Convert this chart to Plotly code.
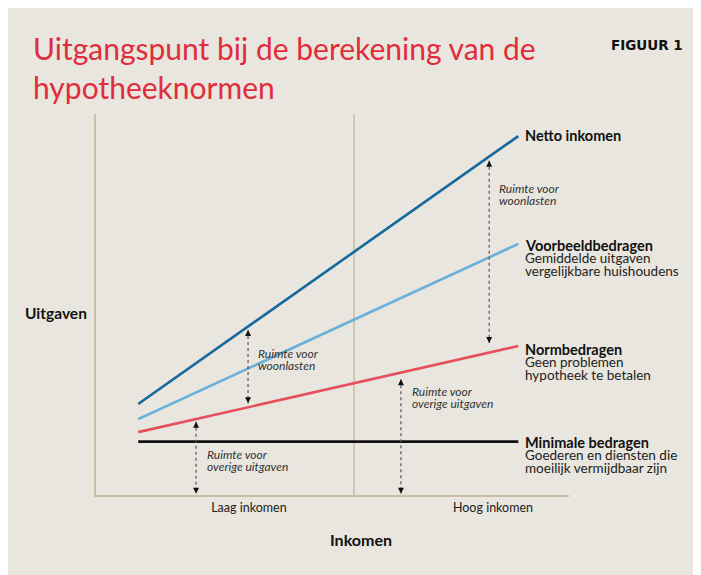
import plotly.graph_objects as go

# ---------------- data ----------------
income_x = [1, 10]
netto_inkomen = [23.9, 94.2]
voorbeeldbedragen = [19.9, 65.9]
normbedragen = [16.5, 39.1]
minimale_bedragen = [14.0, 14.0]

arrow_x = [3.6, 2.37, 7.22, 9.31]
arrow_top = [43.3, 19.2, 30.4, 87.7]
arrow_bottom = [24.1, 0.3, 0.3, 39.9]
arrow_labels = [["Ruimte voor", "woonlasten"],
                ["Ruimte voor", "overige uitgaven"],
                ["Ruimte voor", "overige uitgaven"],
                ["Ruimte voor", "woonlasten"]]

tick_vals = [3.62, 9.40]
tick_text = ["Laag inkomen", "Hoog inkomen"]
divider_x = 6.11

series_names = ["Netto inkomen", "Voorbeeldbedragen", "Normbedragen", "Minimale bedragen"]
series_sub = [[], ["Gemiddelde uitgaven", "vergelijkbare huishoudens"],
              ["Geen problemen", "hypotheek te betalen"],
              ["Goederen en diensten die", "moeilijk vermijdbaar zijn"]]

# ---------------- layout helpers ----------------
# coordinates below are screen pixels; the page body adds an 8px margin
OFF = 8
W, H = 701, 575
L, R, T, B = 96 - OFF, 569 - OFF, 114 - OFF, 495 - OFF
FONT = "Lato"
BG = "#e8e6de"
AXC = "#c9bea6"


def px(x):
    return (x - OFF - L) / (R - L)


def py(y):
    return (B - (y - OFF)) / (B - T)


fig = go.Figure()

colors = ["#17689c", "#68afd9", "#e5505c", "#111111"]
values = [netto_inkomen, voorbeeldbedragen, normbedragen, minimale_bedragen]
for name, vals, c in zip(series_names, values, colors):
    fig.add_trace(go.Scatter(x=income_x, y=vals, mode="lines", name=name,
                             line=dict(color=c, width=2.6), showlegend=False,
                             hoverinfo="skip"))

for ax_, top, bot in zip(arrow_x, arrow_top, arrow_bottom):
    fig.add_trace(go.Scatter(x=[ax_, ax_], y=[top, bot], mode="lines",
                             line=dict(color="#555555", width=1.2, dash="3px,3px"),
                             showlegend=False, hoverinfo="skip"))
    fig.add_trace(go.Scatter(x=[ax_, ax_], y=[top, bot], mode="markers",
                             marker=dict(symbol=["arrow-up", "arrow-down"], size=6,
                                         color="#111111", line=dict(width=0)),
                             showlegend=False, hoverinfo="skip"))

annotations = []


def text(x, y, s, size=13, color="#1a1a1a", xanchor="left", bold=False, italic=False,
         family=FONT):
    if bold:
        s = "<b>" + s + "</b>"
    if italic:
        s = "<i>" + s + "</i>"
    annotations.append(dict(x=px(x), y=py(y), xref="paper", yref="paper", text=s,
                            showarrow=False, xanchor=xanchor, yanchor="middle",
                            borderpad=0,
                            font=dict(family=family, size=size, color=color)))


# title
text(32, 48, "Uitgangspunt bij de berekening van de", size=30, color="#e12d3b")
text(32, 87, "hypotheeknormen", size=30, color="#e12d3b")
text(684, 45, "FIGUUR 1", size=13.5, bold=True, xanchor="right", color="#111111",
     family="DejaVu Sans")

# axis labels
text(24, 313, "Uitgaven", size=15.5, bold=True, color="#111111")
text(361, 539, "Inkomen", size=16, bold=True, color="#111111", xanchor="center")

# series labels on the right
label_y = [136, 245, 349, 442]
for name, subs, y0 in zip(series_names, series_sub, label_y):
    text(524, y0, name, size=14.5, bold=True, color="#111111")
    for i, s in enumerate(subs):
        text(524, y0 + 13 * (i + 1), s, size=13.5, color="#222222")

# arrow labels
arrow_label_pos = [(257, 353), (206, 454), (411, 391), (498, 188)]
for lines, (lx, ly) in zip(arrow_labels, arrow_label_pos):
    for i, s in enumerate(lines):
        text(lx, ly + 12 * i, s, size=12, italic=True, color="#333333")

shapes = [
    dict(type="line", xref="x", yref="paper", x0=divider_x, x1=divider_x, y0=0, y1=1,
         line=dict(color=AXC, width=1.5), layer="below"),
]

fig.update_layout(
    width=W, height=H,
    margin=dict(l=L, r=W - R, t=T, b=H - B, pad=0),
    paper_bgcolor=BG, plot_bgcolor=BG,
    xaxis=dict(range=[0, 11.2], showgrid=False, zeroline=False, showline=True,
               linecolor=AXC, linewidth=2, tickvals=tick_vals, ticktext=tick_text,
               ticks="", tickfont=dict(family=FONT, size=12.5, color="#222222"),
               fixedrange=True),
    yaxis=dict(range=[0, 100], showgrid=False, zeroline=False, showline=True,
               linecolor=AXC, linewidth=2, showticklabels=False, ticks="",
               fixedrange=True),
    annotations=annotations,
    shapes=shapes,
    showlegend=False,
)

fig.write_html("out.html")
